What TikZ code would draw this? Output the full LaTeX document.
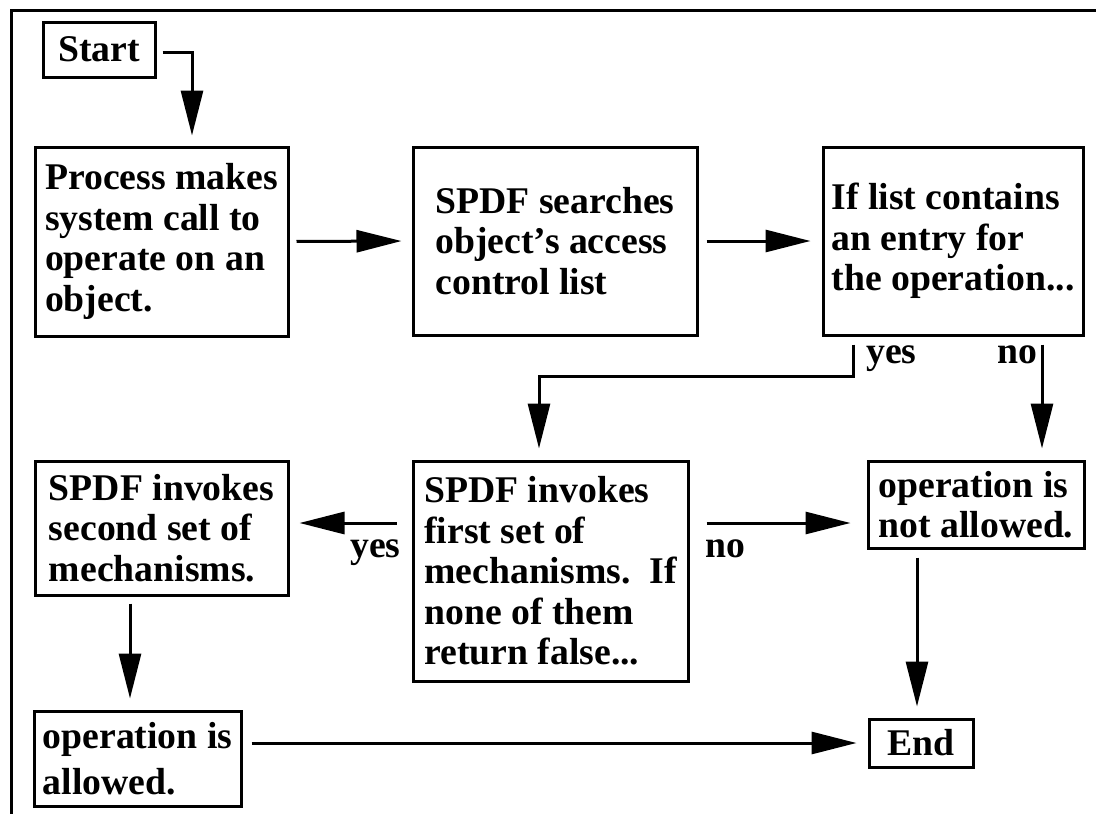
\documentclass[tikz,border=0pt]{standalone}
\usepackage{fontspec}
\setmainfont{Liberation Serif}
\usetikzlibrary{arrows.meta}

\tikzset{
  boxtext/.style={font=\fontsize{37.7}{40.5}\selectfont\bfseries},
  stepbox/.style={draw, line width=3pt, inner sep=0pt, align=left, boxtext},
  flow/.style={line width=3pt, -{Triangle[length=45pt,width=22pt]}},
  lbl/.style={boxtext, inner sep=0pt, anchor=base west},
}

\begin{document}
\begin{tikzpicture}[x=1pt,y=-1pt]
  \useasboundingbox (0,0) rectangle (1096,814);

  % outer frame (top and left edges)
  \draw[line width=3pt] (1096,10) -- (11,10) -- (11,814);

  % boxes
  \node[stepbox, minimum width=112pt, minimum height=55pt]  (start)  at (99,49.5)    {Start};
  \node[stepbox, minimum width=253pt, minimum height=189pt] (proc)   at (161.5,241.5) {Process makes\\system call to\\operate on an\\object.};
  \node[stepbox, minimum width=284pt, minimum height=188pt] (search) at (555,241)    {SPDF searches\\object's access\\control list};
  \node[stepbox, minimum width=260pt, minimum height=188pt] (ifl)    at (953,241)    {If list contains\\an entry for\\the operation...};
  \node[stepbox, minimum width=253pt, minimum height=134pt] (second) at (161.5,528)  {SPDF invokes\\second set of\\mechanisms.};
  \node[stepbox, minimum width=275pt, minimum height=220pt] (first)  at (550.5,571)  {SPDF invokes\\first set of\\mechanisms.\ \ If\\none of them\\return false...};
  \node[stepbox, minimum width=216pt, minimum height=87pt]  (notal)  at (976,504.5)  {operation is\\not allowed.};
  \node[stepbox, minimum width=207pt, minimum height=95pt,
        font=\fontsize{37.7}{46}\selectfont\bfseries]        (allow)  at (137.5,758.5) {operation is\\allowed.};
  \node[stepbox, minimum width=104pt, minimum height=48pt]  (endn)   at (921,743)    {End};

  % routing points
  \coordinate (startdrop) at (192,52);
  \coordinate (yesdrop)   at (853,376);
  \coordinate (yesturn)   at (539,376);
  \coordinate (nodrop)    at (1042,376);
  \coordinate (midrow)    at (0,523);
  \coordinate (enddrop)   at (917,600);
  \coordinate (secdrop)   at (130,600);

  % connectors
  \draw[flow, shorten <=6pt, shorten >=10pt] (start.east |- startdrop) -- (startdrop) -- (proc.north -| startdrop);
  \draw[flow, shorten <=7pt, shorten >=10pt] (proc.east) -- (search.west);
  \draw[flow, shorten <=8pt, shorten >=11pt] (search.east) -- (ifl.west);
  \draw[flow, shorten <=8pt, shorten >=11pt] (ifl.south -| yesdrop) -- (yesdrop) -- (yesturn) -- (first.north -| yesturn);
  \draw[flow, shorten <=8pt, shorten >=11pt] (ifl.south -| nodrop) -- (notal.north -| nodrop);
  \draw[flow, shorten <=15pt, shorten >=10pt] (first.west |- midrow) -- (second.east |- midrow);
  \draw[flow, shorten <=17pt, shorten >=16pt] (first.east |- midrow) -- (notal.west |- midrow);
  \draw[flow, shorten <=7pt, shorten >=11pt] (second.south -| secdrop) -- (allow.north -| secdrop);
  \draw[flow, shorten <=8pt, shorten >=11pt] (notal.south -| enddrop) -- (endn.north -| enddrop);
  \draw[flow, shorten <=9pt, shorten >=11pt] (allow.east |- endn.west) -- (endn.west);

  % branch labels
  \node[lbl] (lyes1) at (866,363) {yes};
  \node[lbl] (lno1)  at (997,363) {no};
  \node[lbl] (lyes2) at (350,557) {yes};
  \node[lbl] (lno2)  at (705,557) {no};
\end{tikzpicture}
\end{document}
